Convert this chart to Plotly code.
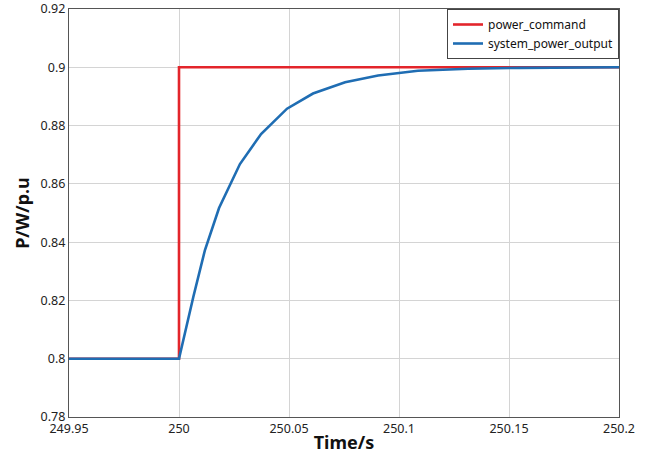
import plotly.graph_objects as go

cmd_t = [249.95, 250.0, 250.0, 250.2]
cmd_p = [0.80, 0.80, 0.90, 0.90]

out_t = [249.95, 250.0, 250.0065, 250.0118, 250.0182, 250.0277, 250.0373,
         250.0491, 250.0609, 250.0755, 250.0905, 250.1086, 250.1314, 250.155, 250.2]
out_p = [0.80, 0.80, 0.8212, 0.8373, 0.8517, 0.8668, 0.8771,
         0.8858, 0.8910, 0.8949, 0.8972, 0.8988, 0.8995, 0.8998, 0.9]

x_ticks = [249.95, 250, 250.05, 250.1, 250.15, 250.2]
x_labels = ["249.95", "250", "250.05", "250.1", "250.15", "250.2"]
y_ticks = [0.78, 0.8, 0.82, 0.84, 0.86, 0.88, 0.9, 0.92]
y_labels = ["0.78", "0.8", "0.82", "0.84", "0.86", "0.88", "0.9", "0.92"]

fig = go.Figure()
fig.add_trace(go.Scatter(x=cmd_t, y=cmd_p, mode="lines", name="power_command",
                         line=dict(color="#e3252b", width=2.6)))
fig.add_trace(go.Scatter(x=out_t, y=out_p, mode="lines", name="system_power_output",
                         line=dict(color="#1f6db3", width=2.6)))

axis_common = dict(showgrid=True, gridcolor="#d4d4d4", gridwidth=1,
                   showline=True, linecolor="#555555", linewidth=1.2, mirror=True,
                   zeroline=False, ticks="", automargin=False,
                   ticklabeloverflow="allow",
                   tickfont=dict(size=12.5, color="#222222", family="Noto Sans"))

fig.update_layout(
    width=647, height=457,
    margin=dict(l=69, r=28, t=9, b=40),
    paper_bgcolor="white", plot_bgcolor="white",
    font=dict(family="Noto Sans", color="#111111"),
    showlegend=True,
    legend=dict(x=1, y=1, xanchor="right", yanchor="top",
                bgcolor="white", bordercolor="#444444", borderwidth=1,
                font=dict(size=12, color="#111111"),
                tracegroupgap=0, itemwidth=30),
    xaxis=dict(range=[249.95, 250.2], tickvals=x_ticks, ticktext=x_labels,
               title=dict(text="<b>Time/s</b>", font=dict(size=18), standoff=0),
               **axis_common),
    yaxis=dict(range=[0.78, 0.92], tickvals=y_ticks, ticktext=y_labels,
               title=dict(text="<b>P/W/p.u</b>", font=dict(size=18), standoff=6),
               **axis_common),
)

fig.write_html("out.html", config={"displayModeBar": False},
               post_script="document.body.style.margin='0';document.body.style.overflow='hidden';")
